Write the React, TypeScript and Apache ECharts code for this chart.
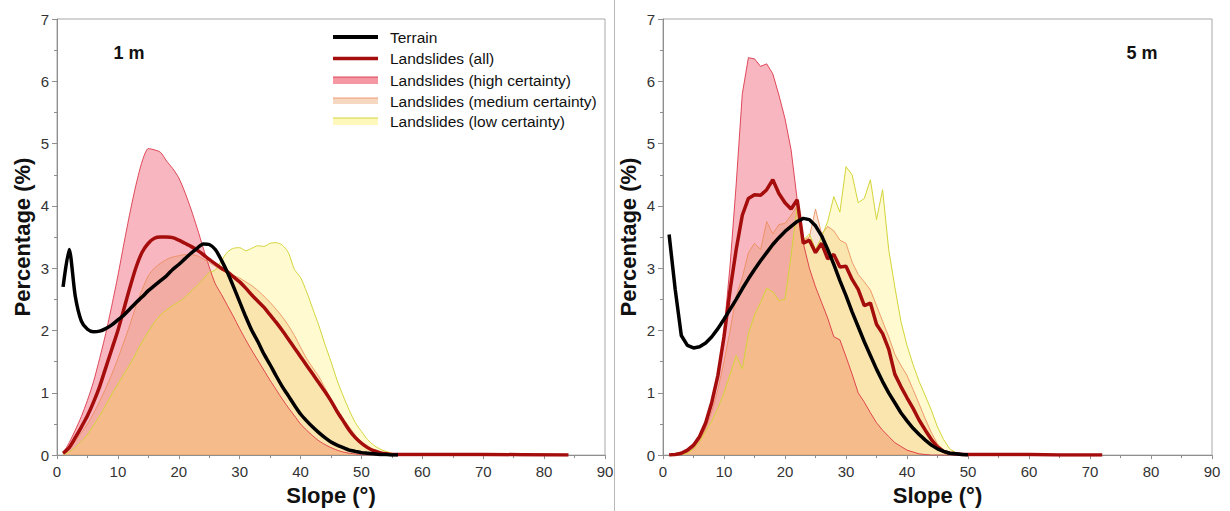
import React, { useEffect, useRef } from "react";
import * as echarts from "echarts";

// ---------- 1 m panel ----------
const SLOPE_1M = [1,2,3,4,5,6,7,8,9,10,11,12,13,14,15,16,17,18,19,20,21,22,23,24,25,26,27,28,29,30,31,32,33,34,35,36,37,38,39,40,41,42,43,44,45,46,47,48,49,50,51,52,53,54,55,56];
const TERRAIN_1M = [2.7,3.3,2.55,2.15,2.02,1.98,1.99,2.03,2.09,2.17,2.25,2.35,2.45,2.54,2.64,2.72,2.8,2.88,2.98,3.06,3.15,3.24,3.32,3.39,3.38,3.3,3.13,2.93,2.7,2.46,2.22,2.0,1.82,1.62,1.45,1.27,1.1,0.95,0.8,0.66,0.55,0.45,0.36,0.28,0.21,0.16,0.12,0.08,0.06,0.04,0.03,0.02,0.01,0.01,0,0];
const ALL_1M = [0.03,0.12,0.28,0.45,0.63,0.85,1.1,1.4,1.7,2.0,2.35,2.7,3.02,3.26,3.4,3.48,3.5,3.5,3.49,3.45,3.4,3.35,3.29,3.22,3.14,3.07,3.0,2.94,2.86,2.78,2.68,2.57,2.47,2.37,2.25,2.13,2.0,1.86,1.72,1.58,1.44,1.3,1.16,1.02,0.87,0.7,0.55,0.4,0.28,0.19,0.12,0.07,0.04,0.02,0.01,0.01];
const ALL_TAIL_SLOPE_1M = [60,70,84];
const ALL_TAIL_1M = [0.01,0.01,0.0];
const HIGH_1M = [0.03,0.2,0.4,0.62,0.88,1.18,1.55,1.95,2.4,2.88,3.4,3.9,4.35,4.72,4.92,4.9,4.86,4.72,4.6,4.45,4.22,3.95,3.65,3.33,3.02,2.75,2.58,2.4,2.22,2.03,1.85,1.68,1.52,1.36,1.2,1.05,0.9,0.76,0.63,0.5,0.4,0.31,0.23,0.17,0.12,0.08,0.05,0.03,0.02,0.01,0,0,0,0,0,0];
const MEDIUM_1M = [0.02,0.1,0.22,0.36,0.5,0.67,0.86,1.07,1.3,1.55,1.82,2.1,2.4,2.66,2.88,3.0,3.08,3.14,3.18,3.2,3.22,3.22,3.2,3.15,3.09,3.03,2.97,2.92,2.88,2.84,2.78,2.72,2.64,2.55,2.45,2.34,2.22,2.08,1.92,1.73,1.55,1.4,1.26,1.08,0.9,0.73,0.58,0.45,0.32,0.22,0.15,0.09,0.05,0.02,0.01,0];
const LOW_1M = [0.01,0.05,0.12,0.22,0.33,0.48,0.63,0.8,0.98,1.14,1.3,1.46,1.64,1.82,1.98,2.13,2.25,2.33,2.4,2.46,2.53,2.63,2.72,2.82,2.93,2.97,3.12,3.26,3.32,3.33,3.28,3.32,3.36,3.35,3.4,3.41,3.37,3.25,2.98,2.85,2.62,2.35,2.08,1.78,1.5,1.2,0.95,0.72,0.52,0.38,0.25,0.16,0.1,0.06,0.03,0.01];

// ---------- 5 m panel ----------
const SLOPE_5M = [1,2,3,4,5,6,7,8,9,10,11,12,13,14,15,16,17,18,19,20,21,22,23,24,25,26,27,28,29,30,31,32,33,34,35,36,37,38,39,40,41,42,43,44,45,46,47,48,49,50];
const TERRAIN_5M = [3.54,2.66,1.92,1.76,1.72,1.74,1.8,1.9,2.03,2.18,2.34,2.5,2.67,2.83,2.98,3.12,3.25,3.38,3.49,3.59,3.67,3.75,3.8,3.78,3.68,3.52,3.3,3.06,2.8,2.56,2.3,2.06,1.82,1.6,1.38,1.18,1.0,0.84,0.68,0.55,0.43,0.33,0.24,0.16,0.1,0.06,0.03,0.02,0.01,0];
const ALL_5M = [0,0.01,0.03,0.08,0.16,0.3,0.52,0.85,1.28,1.9,2.65,3.3,3.85,4.12,4.18,4.17,4.26,4.42,4.2,4.05,3.95,4.1,3.4,3.45,3.25,3.4,3.15,3.22,3.02,3.03,2.82,2.66,2.4,2.44,2.1,1.95,1.7,1.3,1.1,0.92,0.75,0.56,0.4,0.25,0.13,0.06,0.03,0.02,0.01,0.01];
const ALL_TAIL_SLOPE_5M = [55,60,65,72];
const ALL_TAIL_5M = [0.01,0.01,0,0];
const HIGH_5M = [0,0,0.01,0.05,0.12,0.25,0.45,0.8,1.3,2.0,3.05,4.35,5.8,6.38,6.36,6.24,6.28,6.12,5.78,5.4,4.9,4.1,3.4,3.0,2.7,2.45,2.2,1.9,1.85,1.58,1.3,1.0,0.85,0.68,0.52,0.4,0.3,0.2,0.14,0.08,0.05,0.02,0.01,0,0,0,0,0,0,0];
const MEDIUM_5M = [0,0,0.01,0.04,0.1,0.22,0.42,0.7,1.05,1.5,2.0,2.55,2.85,3.25,3.4,3.3,3.75,3.55,3.7,3.72,3.85,4.0,3.45,3.5,3.95,3.55,3.67,3.6,3.45,3.4,3.1,2.9,2.78,2.65,2.4,2.15,1.9,1.62,1.44,1.28,1.05,0.82,0.58,0.36,0.18,0.08,0.03,0.01,0,0];
const LOW_5M = [0,0,0.01,0.03,0.1,0.22,0.38,0.55,0.75,1.0,1.3,1.6,1.38,1.95,2.25,2.45,2.68,2.62,2.48,2.5,3.2,4.0,3.45,3.55,3.3,3.5,3.75,4.15,3.9,4.63,4.5,4.05,4.12,4.42,3.78,4.26,3.3,2.7,2.15,1.76,1.45,1.18,0.95,0.72,0.45,0.25,0.1,0.04,0.01,0];

// ---------- axes / labels ----------
const X_MIN = 0, X_MAX = 90, X_STEP = 10;
const Y_MIN = 0, Y_MAX = 7, Y_STEP = 1;
const PANEL_LABELS = ["1 m", "5 m"];
const LEGEND_NAMES = ["Terrain", "Landslides (all)", "Landslides (high certainty)", "Landslides (medium certainty)", "Landslides (low certainty)"];

const FONT = "'Liberation Sans', Arial, sans-serif";
const AXIS_GREY = "#8f8f8f";
const C_TERRAIN = "#000000";
const C_ALL = "#a50c0c";
const C_HIGH_LINE = "rgba(215,35,55,0.8)";
const C_HIGH_FILL = "rgba(236,68,90,0.55)";
const C_MED_LINE = "rgba(235,140,90,0.85)";
const C_MED_FILL = "rgba(230,140,80,0.35)";
const C_LOW_LINE = "#d2d43a";
const C_LOW_FILL = "rgba(255,235,60,0.35)";

const pairs = (xs: number[], ys: number[]) => xs.map((x, i) => [x, ys[i]]);

function panelSeries(idx: number, xs: number[], terrain: number[], all: number[], tailX: number[], tailY: number[], high: number[], med: number[], low: number[], smooth: number | boolean) {
  const base = { type: "line", xAxisIndex: idx, yAxisIndex: idx, symbol: "none", smooth, silent: true };
  return [
    { ...base, name: LEGEND_NAMES[2], data: pairs(xs, high), lineStyle: { color: C_HIGH_LINE, width: 1 }, areaStyle: { color: C_HIGH_FILL } },
    { ...base, name: LEGEND_NAMES[3], data: pairs(xs, med), lineStyle: { color: C_MED_LINE, width: 1 }, areaStyle: { color: C_MED_FILL } },
    { ...base, name: LEGEND_NAMES[4], data: pairs(xs, low), lineStyle: { color: C_LOW_LINE, width: 1 }, areaStyle: { color: C_LOW_FILL } },
    { ...base, name: LEGEND_NAMES[1], data: pairs(xs.concat(tailX), all.concat(tailY)), lineStyle: { color: C_ALL, width: 3.5 } },
    { ...base, name: LEGEND_NAMES[0], data: pairs(xs, terrain), lineStyle: { color: C_TERRAIN, width: 3.5 } },
  ];
}

function xAxis(idx: number) {
  return {
    type: "value", gridIndex: idx, min: X_MIN, max: X_MAX, interval: X_STEP,
    name: "Slope (°)", nameLocation: "middle", nameGap: 27,
    nameTextStyle: { fontFamily: FONT, fontWeight: "bold", fontSize: 22, color: "#111" },
    axisLine: { show: true, onZero: false, lineStyle: { color: AXIS_GREY, width: 1 } },
    axisTick: { show: true, length: 4, lineStyle: { color: AXIS_GREY } },
    minorTick: { show: true, splitNumber: 2, length: 3, lineStyle: { color: AXIS_GREY } },
    axisLabel: { fontFamily: FONT, fontSize: 15, color: "#333", margin: 9 },
    splitLine: { show: false },
  };
}

function yAxis(idx: number) {
  return {
    type: "value", gridIndex: idx, min: Y_MIN, max: Y_MAX, interval: Y_STEP,
    name: "Percentage (%)", nameLocation: "middle", nameGap: 24,
    nameTextStyle: { fontFamily: FONT, fontWeight: "bold", fontSize: 22, color: "#111" },
    axisLine: { show: true, lineStyle: { color: AXIS_GREY, width: 1 } },
    axisTick: { show: true, length: 5, lineStyle: { color: AXIS_GREY } },
    minorTick: { show: true, splitNumber: 2, length: 3, lineStyle: { color: AXIS_GREY } },
    axisLabel: { fontFamily: FONT, fontSize: 15, color: "#333", margin: 8 },
    splitLine: { show: false },
  };
}

function legendGraphic() {
  const x0 = 333, x1 = 378, tx = 390;
  const rows = [37, 58.5, 80, 101, 121];
  const els: any[] = [
    { type: "line", shape: { x1: x0, y1: rows[0], x2: x1, y2: rows[0] }, style: { stroke: C_TERRAIN, lineWidth: 4 } },
    { type: "line", shape: { x1: x0, y1: rows[1], x2: x1, y2: rows[1] }, style: { stroke: C_ALL, lineWidth: 3.5 } },
    { type: "rect", shape: { x: x0, y: rows[2] - 3, width: x1 - x0, height: 7 }, style: { fill: C_HIGH_FILL } },
    { type: "line", shape: { x1: x0, y1: rows[2] - 3, x2: x1, y2: rows[2] - 3 }, style: { stroke: C_HIGH_LINE, lineWidth: 1 } },
    { type: "rect", shape: { x: x0, y: rows[3] - 3, width: x1 - x0, height: 6 }, style: { fill: C_MED_FILL } },
    { type: "line", shape: { x1: x0, y1: rows[3] - 3, x2: x1, y2: rows[3] - 3 }, style: { stroke: C_MED_LINE, lineWidth: 1 } },
    { type: "rect", shape: { x: x0, y: rows[4] - 3, width: x1 - x0, height: 7 }, style: { fill: C_LOW_FILL } },
    { type: "line", shape: { x1: x0, y1: rows[4] - 3, x2: x1, y2: rows[4] - 3 }, style: { stroke: C_LOW_LINE, lineWidth: 1 } },
  ];
  LEGEND_NAMES.forEach((n, i) => {
    els.push({ type: "text", x: tx, y: rows[i], style: { text: n, font: `15.5px ${FONT}`, fill: "#111", textVerticalAlign: "middle", verticalAlign: "middle" } });
  });
  return els;
}

export default function App() {
  const ref = useRef<HTMLDivElement>(null);
  useEffect(() => {
    if (!ref.current) return;
    const chart = echarts.init(ref.current, null, { renderer: "svg" });
    const option: any = {
      animation: false,
      backgroundColor: "#ffffff",
      grid: [
        { left: 57, top: 19, width: 548, height: 438, show: true, borderColor: "#a8a8a8", borderWidth: 1, backgroundColor: "transparent" },
        { left: 663, top: 19, width: 549, height: 438, show: true, borderColor: "#a8a8a8", borderWidth: 1, backgroundColor: "transparent" },
      ],
      xAxis: [xAxis(0), xAxis(1)],
      yAxis: [yAxis(0), yAxis(1)],
      series: [
        ...panelSeries(0, SLOPE_1M, TERRAIN_1M, ALL_1M, ALL_TAIL_SLOPE_1M, ALL_TAIL_1M, HIGH_1M, MEDIUM_1M, LOW_1M, 0.25),
        ...panelSeries(1, SLOPE_5M, TERRAIN_5M, ALL_5M, ALL_TAIL_SLOPE_5M, ALL_TAIL_5M, HIGH_5M, MEDIUM_5M, LOW_5M, false),
      ],
      graphic: [
        { type: "line", shape: { x1: 614.5, y1: 0, x2: 614.5, y2: 511 }, style: { stroke: "#b8b8b8", lineWidth: 1 } },
        { type: "text", x: 129, y: 53, style: { text: PANEL_LABELS[0], font: `bold 18px ${FONT}`, fill: "#111", textAlign: "center", textVerticalAlign: "middle", align: "center", verticalAlign: "middle" } },
        { type: "text", x: 1142, y: 53, style: { text: PANEL_LABELS[1], font: `bold 18px ${FONT}`, fill: "#111", textAlign: "center", textVerticalAlign: "middle", align: "center", verticalAlign: "middle" } },
        ...legendGraphic(),
      ],
    };
    chart.setOption(option);
    return () => chart.dispose();
  }, []);
  return <div ref={ref} style={{ position: "fixed", left: 0, top: 0, width: 1230, height: 511, background: "#fff" }} />;
}
